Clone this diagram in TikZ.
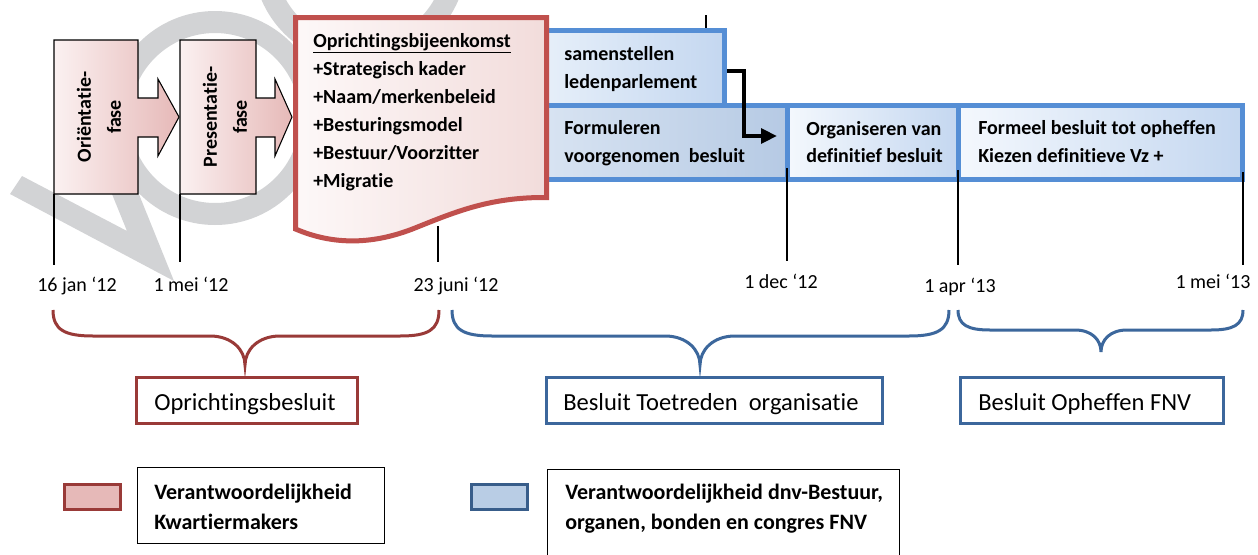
\documentclass[tikz,border=0pt]{standalone}
\usepackage{fontspec}
\setmainfont{Carlito}[Ligatures=NoCommon]
\usetikzlibrary{arrows.meta}
\definecolor{pinkL}{HTML}{FBF1F1}
\definecolor{pinkR}{HTML}{E6B9B8}
\definecolor{docL}{HTML}{FDF8F8}
\definecolor{docR}{HTML}{F2DCDB}
\definecolor{docB}{HTML}{C0504D}
\definecolor{blueB}{HTML}{558ED5}
\definecolor{samL}{HTML}{E9F1FA}
\definecolor{samR}{HTML}{C4D7F0}
\definecolor{forL}{HTML}{DAE5F3}
\definecolor{forR}{HTML}{B6CAE4}
\definecolor{orgL}{HTML}{F4F8FD}
\definecolor{orgR}{HTML}{C4D7F0}
\definecolor{braceR}{HTML}{993A38}
\definecolor{braceB}{HTML}{3C679C}
\definecolor{wmark}{HTML}{D2D3D5}
\definecolor{legR}{HTML}{E6B9B8}
\definecolor{legB}{HTML}{B9CDE5}
\definecolor{legBB}{HTML}{385D8A}
\begin{document}
\begin{tikzpicture}[x=0.75pt,y=-0.75pt,
 chev/.style={draw=black,line width=0.8pt,left color=pinkL,right color=pinkR},
 docshape/.style={draw=docB,line width=3.75pt,left color=docL,right color=docR},
 bluebox/.style={draw=blueB,line width=3.75pt,inner sep=0pt,minimum height=55.5pt},
 tick/.style={draw=black,line width=0.9pt},
 lbl/.style={font=\bfseries\fontsize{15}{18}\selectfont,anchor=base west,inner sep=0pt},
 rotlbl/.style={font=\bfseries\fontsize{15}{22.5}\selectfont,rotate=90,align=center,inner sep=0pt},
 datelbl/.style={font=\fontsize{15}{18}\selectfont,anchor=base,inner sep=0pt},
 bracer/.style={draw=braceR,line width=2.25pt},
 braceb/.style={draw=braceB,line width=2.25pt},
 lowbox/.style={line width=2.25pt,minimum height=34.5pt,inner sep=0pt},
 lowtxt/.style={font=\fontsize{18.4}{22}\selectfont,anchor=base west,inner sep=0pt},
 legsq/.style={line width=2.25pt,minimum width=42pt,minimum height=18.75pt,inner sep=0pt},
 legbox/.style={draw=black,line width=1.1pt,inner sep=0pt},
 leglbl/.style={font=\bfseries\fontsize{16.5}{19}\selectfont,anchor=base west,inner sep=0pt},
 elbow/.style={draw=black,line width=3pt,-{Triangle[length=12pt,width=11pt]}},
 wm/.style={fill=wmark,even odd rule}
]
\useasboundingbox (0,0) rectangle (1258,554);
\fill[white] (0,0) rectangle (1258,554);
% watermark (lowercase v, o, o)
\begin{scope}
\clip (0,0) rectangle (1258,554);
\fill[wm] (10,194) -- (174,281) -- (109,120) -- (82,120) -- (127,231) -- (22,176) -- cycle;
\fill[wm] (215,118) circle[radius=107] (215,118) circle[radius=85];
\fill[wm] (360,-42) circle[radius=107] (360,-42) circle[radius=85];
\end{scope}
% chevrons
\path[chev] (54,40) -- (138,40) -- (138,98) -- (158,98) -- (158,79) -- (179,117) -- (158,156) -- (158,137) -- (138,137) -- (138,194) -- (54,194) -- cycle;
\path[chev] (180,40) -- (256,40) -- (256,98) -- (275,98) -- (275,79) -- (292,117) -- (275,156) -- (275,137) -- (256,137) -- (256,194) -- (180,194) -- cycle;
\node[rotlbl] (ori) at (99,117) {Oriëntatie-\\fase};
\node[rotlbl] (pres) at (225,117) {Presentatie-\\fase};
% blue boxes
\node[bluebox,left color=forL,right color=forR,minimum width=192.75pt] (form) at (658.5,142.5) {};
\node[bluebox,left color=orgL,right color=orgR,minimum width=128.625pt] (org) at (872.75,142.5) {};
\node[bluebox,left color=orgL,right color=orgR,minimum width=213pt] (formeel) at (1100.5,142.5) {};
\node[bluebox,left color=samL,right color=samR,minimum width=145.875pt,minimum height=56.25pt] (sam) at (627.25,68) {};
% red document
\path[docshape] (295.5,17.5) -- (546.5,17.5) -- (546.5,197.5) .. controls (490,197) and (455,212) .. (415,228) .. controls (375,244) and (335,246) .. (295.5,229) -- cycle;
\node[lbl] (d1) at (313,47) {\underline{Oprichtingsbijeenkomst}};
\node[lbl] (d2) at (313,75) {+Strategisch kader};
\node[lbl] (d3) at (313,103) {+Naam/merkenbeleid};
\node[lbl] (d4) at (313,131) {+Besturingsmodel};
\node[lbl] (d5) at (313,159) {+Bestuur/Voorzitter};
\node[lbl] (d6) at (313,187) {+Migratie};
% blue texts
\node[lbl] (s1) at (564,60) {samenstellen};
\node[lbl] (s2) at (564,88) {ledenparlement};
\node[lbl] (f1) at (564,134) {Formuleren};
\node[lbl] (f2) at (564,162.5) {voorgenomen\ \ besluit};
\node[lbl] (o1) at (806,135) {Organiseren van};
\node[lbl] (o2) at (806,162.5) {definitief besluit};
\node[lbl] (m1) at (978,134) {Formeel besluit tot opheffen};
\node[lbl] (m2) at (978,162.5) {Kiezen definitieve Vz +};
% elbow arrow
\coordinate (arrEnd) at (777,136);
\draw[elbow] ([yshift=-2.25pt]sam.east) -- ++(16.5,0) |- (arrEnd);
% ticks
\coordinate (t1a) at (54,194); \coordinate (t1b) at (54,265);
\coordinate (t2a) at (180,194); \coordinate (t2b) at (180,262);
\coordinate (t3a) at (438,226); \coordinate (t3b) at (438,262);
\coordinate (t4a) at (787,168); \coordinate (t4b) at (787,261);
\coordinate (t5a) at (958,170); \coordinate (t5b) at (958,265);
\coordinate (t6a) at (1243,172); \coordinate (t6b) at (1243,265);
\coordinate (t7a) at (706,15); \coordinate (t7b) at (706,28);
\foreach \i in {1,...,7} {\draw[tick] (t\i a) -- (t\i b);}
% dates
\node[datelbl] (dt1) at (77,291.7) {16 jan ‘12};
\node[datelbl] (dt2) at (191,291.7) {1 mei ‘12};
\node[datelbl] (dt3) at (456,291.7) {23 juni ‘12};
\node[datelbl] (dt4) at (781,288.3) {1 dec ‘12};
\node[datelbl] (dt5) at (960,292.3) {1 apr ‘13};
\node[datelbl] (dt6) at (1213,288.3) {1 mei ‘13};
% braces
\draw[bracer] (53,310) .. controls (53,330) and (65,336) .. (93,336) -- (210,336) .. controls (232,336) and (245,350) .. (245,365) .. controls (245,350) and (258,336) .. (280,336) -- (400,336) .. controls (428,336) and (439,330) .. (439,310);
\draw[braceb] (452,310) .. controls (452,330) and (464,336) .. (492,336) -- (665,336) .. controls (687,336) and (700,350) .. (700,365) .. controls (700,350) and (713,336) .. (735,336) -- (909,336) .. controls (937,336) and (949,330) .. (949,310);
\draw[braceb] (958,310) .. controls (958,325) and (968,330) .. (990,330) -- (1075,330) .. controls (1092,330) and (1101,340) .. (1101,352) .. controls (1101,340) and (1110,330) .. (1127,330) -- (1211,330) .. controls (1233,330) and (1243,325) .. (1243,310);
% decision boxes
\node[lowbox,draw=braceR,minimum width=165.75pt] (ob) at (247,400.5) {};
\node[lowtxt] (obt) at (154,410) {Oprichtingsbesluit};
\node[lowbox,draw=braceB,minimum width=252pt] (bt) at (714.5,400.5) {};
\node[lowtxt] (btt) at (563,410) {Besluit Toetreden\ \ organisatie};
\node[lowbox,draw=braceB,minimum width=197.25pt] (bo) at (1092,400.5) {};
\node[lowtxt] (bot) at (978,410) {Besluit Opheffen FNV};
% legend
\node[legsq,fill=legR,draw=braceR] (lr) at (92.5,497) {};
\node[legbox,minimum width=184.875pt,minimum height=56.625pt] (lb1) at (261,505.5) {};
\node[leglbl] (lt1) at (154,499.5) {Verantwoordelijkheid};
\node[leglbl] (lt2) at (154,529) {Kwartiermakers};
\node[legsq,fill=legB,draw=legBB] (lbq) at (499.5,497) {};
\node[legbox,minimum width=264pt,minimum height=82.5pt] (lb2) at (723.5,524.5) {};
\node[leglbl] (lt3) at (565,499.5) {Verantwoordelijkheid dnv-Bestuur,};
\node[leglbl] (lt4) at (565,529) {organen, bonden en congres FNV};
\end{tikzpicture}
\end{document}
